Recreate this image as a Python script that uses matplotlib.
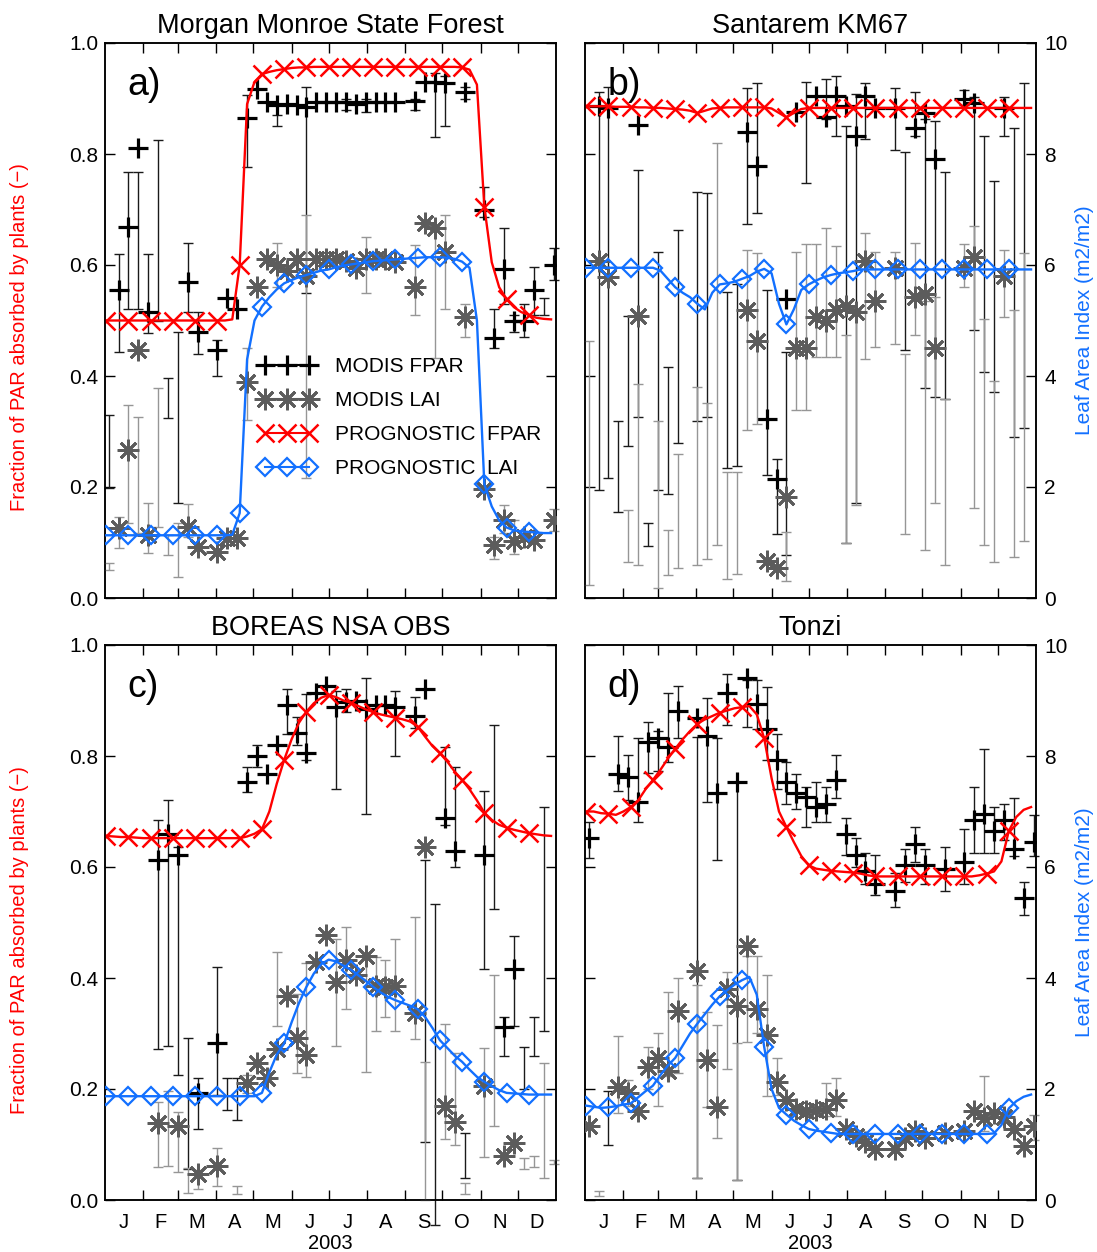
import numpy as np
import matplotlib
matplotlib.use("Agg")
import matplotlib.pyplot as plt
from matplotlib.lines import Line2D

plt.rcParams['font.family'] = ['Liberation Sans', 'DejaVu Sans']

# ---------------- calendar ----------------
months = ['J', 'F', 'M', 'A', 'M', 'J', 'J', 'A', 'S', 'O', 'N', 'D']
month_edges = [0, 31, 59, 90, 120, 151, 181, 212, 243, 273, 304, 334, 365]
year_label = '2003'

# MODIS 8-day composites: composite index k -> composite centre day of year
def modis_doy(k):
    return 3 + 8 * np.asarray(k)

# prognostic model output every 6 days, markers every 18 days
prog_doy = np.arange(1, 362, 6)

titles = ['Morgan Monroe State Forest', 'Santarem KM67', 'BOREAS NSA OBS', 'Tonzi']
letters = ['a)', 'b)', 'c)', 'd)']

# ---------------- a) Morgan Monroe State Forest ----------------
a_fpar_k = [1, 2, 3, 4, 8, 9, 11, 12, 13, 14, 15, 16, 17, 18, 19, 20, 21, 22, 23, 24, 25, 26, 27, 28, 29,
            31, 32, 33, 34, 36, 38, 39, 40, 41, 42, 43, 45]
a_fpar = [0.555, 0.668, 0.81, 0.515, 0.57, 0.48, 0.447, 0.54, 0.52, 0.865, 0.918, 0.893, 0.888, 0.89, 0.888,
          0.885, 0.893, 0.893, 0.893, 0.893, 0.89, 0.893, 0.893, 0.893, 0.893,
          0.895, 0.93, 0.93, 0.928, 0.912, 0.70, 0.468, 0.592, 0.50, 0.50, 0.555, 0.60]
a_fpar_bar_k = [0, 1, 2, 3, 4, 5, 6, 7, 8, 9, 11, 14, 17, 20, 24, 26, 31, 33, 34, 36, 38, 39, 40, 41, 42, 43, 44, 45]
a_fpar_lo = [0.198, 0.444, 0.52, 0.52, 0.477, 0.50, 0.324, 0.171, 0.515, 0.44, 0.40, 0.777, 0.85, 0.55, 0.88,
             0.875, 0.88, 0.83, 0.85, 0.90, 0.687, 0.45, 0.53, 0.48, 0.47, 0.51, 0.51, 0.573]
a_fpar_hi = [0.33, 0.62, 0.768, 0.768, 0.62, 0.825, 0.396, 0.48, 0.64, 0.515, 0.464, 0.906, 0.87, 0.92, 0.90,
             0.90, 0.90, 0.946, 0.94, 0.92, 0.74, 0.52, 0.667, 0.51, 0.53, 0.597, 0.54, 0.63]
a_lai_k = [1, 2, 3, 4, 8, 9, 11, 12, 13, 14, 15, 16, 17, 18, 19, 20, 21, 22, 23, 24, 25, 26, 27, 28, 29,
           31, 32, 33, 34, 36, 38, 39, 40, 41, 42, 43, 45]
a_lai = [1.26, 2.67, 4.47, 1.13, 1.28, 0.92, 0.83, 1.08, 1.08, 3.9, 5.6, 6.1, 6.0, 5.9, 6.1, 5.8, 6.1, 6.1, 6.1,
         6.08, 5.95, 6.1, 6.1, 6.1, 6.05, 5.6, 6.75, 6.67, 6.24, 5.07, 1.96, 0.95, 1.4, 1.03, 1.1, 1.05, 1.4]
a_lai_bar_k = [0, 1, 2, 3, 4, 5, 6, 7, 8, 14, 17, 20, 26, 31, 33, 34, 36, 39, 40, 41, 45]
a_lai_lo = [0.5, 0.9, 1.35, 1.17, 0.81, 1.28, 0.77, 0.38, 1.1, 3.2, 5.6, 2.16, 5.5, 5.1, 4.32, 5.2, 4.7, 0.7,
            1.17, 0.8, 1.2]
a_lai_hi = [0.63, 1.46, 3.48, 3.27, 1.71, 3.78, 1.13, 1.35, 1.7, 4.5, 6.4, 6.9, 6.5, 6.36, 6.69, 6.9, 5.3, 1.1,
            1.68, 1.4, 1.6]
a_prog_fpar = [0.500, 0.500, 0.500, 0.500, 0.500, 0.500, 0.500, 0.500, 0.500, 0.500,
               0.500, 0.500, 0.500, 0.500, 0.500, 0.500, 0.500, 0.502, 0.600, 0.890,
               0.930, 0.944, 0.948, 0.951, 0.953, 0.955, 0.956, 0.956, 0.957, 0.957,
               0.957, 0.957, 0.957, 0.957, 0.957, 0.957, 0.957, 0.957, 0.957, 0.957,
               0.957, 0.957, 0.957, 0.957, 0.957, 0.957, 0.957, 0.957, 0.956, 0.952,
               0.925, 0.705, 0.605, 0.560, 0.538, 0.524, 0.515, 0.510, 0.505, 0.503,
               0.502]
a_prog_lai = [1.13, 1.13, 1.13, 1.13, 1.13, 1.13, 1.13, 1.13, 1.13, 1.13,
              1.13, 1.13, 1.13, 1.13, 1.13, 1.13, 1.13, 1.14, 1.53, 4.30,
              5.00, 5.25, 5.42, 5.56, 5.67, 5.73, 5.78, 5.82, 5.86, 5.90,
              5.92, 5.96, 5.99, 6.01, 6.03, 6.05, 6.07, 6.08, 6.09, 6.10,
              6.11, 6.12, 6.13, 6.14, 6.14, 6.14, 6.13, 6.11, 6.06, 5.95,
              5.00, 2.05, 1.65, 1.40, 1.27, 1.22, 1.20, 1.19, 1.18, 1.17,
              1.17]

# ---------------- b) Santarem KM67 ----------------
b_fpar_k = [1, 2, 5, 16, 17, 18, 19, 20, 21, 23, 24, 25, 26, 27, 28, 29, 31, 33, 34, 35, 38, 39, 42]
b_fpar = [0.886, 0.883, 0.853, 0.840, 0.778, 0.323, 0.215, 0.539, 0.876, 0.905, 0.866, 0.905, 0.886, 0.833,
          0.905, 0.883, 0.883, 0.847, 0.873, 0.791, 0.90, 0.892, 0.883]
b_fpar_bar_k = [1, 2, 3, 4, 5, 6, 7, 8, 9, 11, 12, 14, 15, 16, 17, 18, 19, 20, 22, 24, 25, 26, 27, 28, 31, 32,
                33, 34, 35, 36, 38, 39, 40, 41, 42, 43, 44]
b_fpar_lo = [0.195, 0.217, 0.155, 0.273, 0.326, 0.093, 0.195, 0.188, 0.280, 0.319, 0.326, 0.234, 0.237, 0.673,
             0.693, 0.221, 0.116, 0.077, 0.748, 0.863, 0.833, 0.10, 0.172, 0.827, 0.807, 0.447, 0.833, 0.378,
             0.362, 0.359, 0.889, 0.483, 0.408, 0.372, 0.833, 0.29, 0.306]
b_fpar_hi = [0.912, 0.92, 0.319, 0.509, 0.771, 0.136, 0.624, 0.417, 0.663, 0.732, 0.729, 0.552, 0.565, 0.919,
             0.928, 0.555, 0.25, 0.444, 0.93, 0.935, 0.94, 0.85, 0.909, 0.928, 0.919, 0.804, 0.912, 0.863,
             0.859, 0.768, 0.915, 0.902, 0.833, 0.751, 0.902, 0.847, 0.928]
b_lai_k = [1, 2, 5, 16, 17, 18, 19, 20, 21, 22, 23, 24, 25, 26, 27, 28, 29, 31, 33, 34, 35, 38, 39, 42]
b_lai = [6.07, 5.78, 5.09, 5.19, 4.63, 0.67, 0.54, 1.82, 4.5, 4.5, 5.06, 4.99, 5.19, 5.26, 5.15, 6.07, 5.35,
         5.95, 5.42, 5.48, 4.5, 5.95, 6.14, 5.81]
b_lai_bar_k = [0, 4, 5, 7, 8, 9, 11, 12, 13, 14, 15, 16, 17, 20, 21, 22, 23, 24, 25, 26, 27, 28, 29, 31, 32, 33,
               34, 35, 36, 38, 39, 40, 41, 42, 43, 44]
b_lai_lo = [0.24, 0.64, 0.60, 0.18, 0.41, 0.54, 0.60, 0.71, 0.96, 0.34, 0.44, 3.03, 3.13, 0.31, 3.39, 3.39, 4.34,
            4.34, 4.34, 1.0, 1.68, 4.31, 4.53, 4.57, 1.16, 4.73, 0.86, 1.72, 0.60, 5.61, 1.62, 0.96, 0.64, 5.06,
            0.74, 1.03]
b_lai_hi = [4.63, 1.59, 3.85, 3.19, 1.23, 2.6, 3.81, 3.52, 8.2, 2.27, 2.27, 6.27, 6.21, 1.19, 6.24, 6.37, 6.37,
            6.67, 6.34, 4.73, 5.19, 6.57, 6.24, 6.24, 4.4, 6.4, 5.35, 5.42, 3.59, 6.37, 6.7, 5.03, 3.91, 6.27,
            5.19, 6.21]
b_prog_fpar = [0.886, 0.886, 0.886, 0.886, 0.885, 0.885, 0.885, 0.884, 0.884, 0.883,
               0.883, 0.882, 0.881, 0.880, 0.878, 0.874, 0.878, 0.882, 0.883, 0.884,
               0.884, 0.884, 0.884, 0.884, 0.884, 0.882, 0.874, 0.866, 0.874, 0.881,
               0.883, 0.883, 0.883, 0.883, 0.883, 0.883, 0.883, 0.883, 0.883, 0.883,
               0.883, 0.883, 0.883, 0.883, 0.883, 0.883, 0.883, 0.883, 0.883, 0.883,
               0.883, 0.883, 0.883, 0.883, 0.883, 0.883, 0.883, 0.883, 0.883, 0.883,
               0.883]
b_prog_lai = [5.95, 5.95, 5.95, 5.95, 5.95, 5.95, 5.95, 5.95, 5.95, 5.95,
              5.90, 5.75, 5.60, 5.50, 5.42, 5.30, 5.20, 5.50, 5.65, 5.67,
              5.70, 5.75, 5.80, 5.88, 5.93, 5.85, 5.30, 4.93, 5.20, 5.55,
              5.65, 5.72, 5.78, 5.82, 5.85, 5.87, 5.89, 5.92, 5.92, 5.92,
              5.92, 5.92, 5.92, 5.92, 5.92, 5.92, 5.92, 5.92, 5.92, 5.92,
              5.92, 5.92, 5.92, 5.92, 5.92, 5.92, 5.92, 5.92, 5.92, 5.92,
              5.92]

# ---------------- c) BOREAS NSA OBS ----------------
c_fpar_k = [5, 6, 7, 9, 11, 14, 15, 16, 17, 18, 19, 20, 21, 22, 23, 24, 25, 26, 27, 28, 29, 31, 32, 34, 35, 38,
            40, 41]
c_fpar = [0.613, 0.659, 0.622, 0.193, 0.282, 0.753, 0.80, 0.767, 0.819, 0.891, 0.842, 0.806, 0.914, 0.926,
          0.888, 0.897, 0.90, 0.885, 0.891, 0.891, 0.888, 0.872, 0.921, 0.688, 0.629, 0.622, 0.312, 0.416]
c_fpar_bar_k = [5, 6, 7, 8, 9, 11, 12, 13, 14, 15, 18, 19, 20, 23, 24, 26, 29, 31, 32, 33, 34, 35, 36, 38, 39,
                40, 41, 42, 43, 44]
c_fpar_lo = [0.272, 0.278, 0.226, 0.056, 0.128, 0.19, 0.163, 0.145, 0.735, 0.78, 0.84, 0.82, 0.793, 0.74, 0.88,
             0.695, 0.80, 0.85, 0.104, -0.045, 0.675, 0.60, 0.04, 0.416, 0.524, 0.26, 0.314, 0.20, 0.26, 0.305]
c_fpar_hi = [0.685, 0.72, 0.636, 0.292, 0.22, 0.42, 0.22, 0.22, 0.78, 0.82, 0.92, 0.87, 0.911, 0.917, 0.92,
             0.94, 0.917, 0.907, 0.613, 0.534, 0.816, 0.78, 0.12, 0.737, 0.855, 0.33, 0.476, 0.275, 0.33, 0.708]
c_lai_k = [5, 7, 9, 11, 14, 15, 16, 17, 18, 19, 20, 21, 22, 23, 24, 25, 26, 27, 28, 29, 31, 32, 34, 35, 38, 40,
           41]
c_lai = [1.38, 1.34, 0.46, 0.62, 2.10, 2.46, 2.2, 2.72, 3.67, 2.92, 2.62, 4.29, 4.78, 3.93, 4.32, 4.06, 4.39,
         3.86, 3.83, 3.86, 3.37, 6.36, 1.70, 1.41, 2.06, 0.79, 1.02]
c_lai_bar_k = [5, 6, 7, 8, 9, 11, 13, 14, 17, 19, 20, 23, 24, 26, 27, 28, 29, 31, 32, 34, 35, 36, 38, 39, 42, 43,
               44, 45]
c_lai_lo = [0.59, 0.62, 0.51, 0.12, 0.19, 0.25, 0.1, 1.92, 3.14, 2.28, 2.21, 2.77, 3.45, 2.3, 3.05, 3.3, 3.05,
            2.9, 0.0, 1.1, 0.99, 0.1, 0.77, 1.34, 0.55, 0.6, 0.4, 0.65]
c_lai_hi = [1.77, 1.96, 1.58, 0.57, 0.54, 0.94, 0.25, 2.25, 4.46, 3.71, 4.27, 4.71, 4.92, 4.37, 4.38, 4.32, 4.7,
            5.1, 2.49, 3.18, 2.64, 0.3, 2.74, 4.06, 0.75, 0.8, 2.46, 0.72]
c_prog_fpar = [0.656, 0.655, 0.654, 0.654, 0.653, 0.652, 0.652, 0.652, 0.652, 0.652,
               0.652, 0.652, 0.652, 0.652, 0.652, 0.652, 0.652, 0.652, 0.652, 0.655,
               0.660, 0.668, 0.700, 0.750, 0.793, 0.830, 0.860, 0.880, 0.895, 0.905,
               0.910, 0.906, 0.900, 0.896, 0.890, 0.884, 0.879, 0.875, 0.872, 0.869,
               0.866, 0.862, 0.853, 0.835, 0.818, 0.805, 0.790, 0.772, 0.757, 0.740,
               0.720, 0.698, 0.685, 0.676, 0.671, 0.667, 0.664, 0.661, 0.659, 0.657,
               0.656]
c_prog_lai = [1.87, 1.87, 1.87, 1.87, 1.87, 1.87, 1.87, 1.87, 1.87, 1.87,
              1.87, 1.87, 1.87, 1.87, 1.87, 1.87, 1.87, 1.87, 1.87, 1.87,
              1.87, 1.93, 2.30, 2.62, 2.82, 3.20, 3.55, 3.84, 4.08, 4.25,
              4.33, 4.30, 4.22, 4.15, 4.05, 3.95, 3.84, 3.74, 3.66, 3.60,
              3.55, 3.50, 3.44, 3.30, 3.10, 2.88, 2.74, 2.60, 2.49, 2.35,
              2.22, 2.13, 2.05, 1.98, 1.93, 1.92, 1.91, 1.90, 1.90, 1.90,
              1.90]

# ---------------- d) Tonzi ----------------
d_fpar_k = [0, 3, 4, 5, 6, 7, 8, 9, 11, 12, 13, 14, 15, 16, 17, 18, 19, 20, 21, 22, 23, 24, 25, 26, 27, 28, 29,
            31, 32, 33, 34, 36, 38, 39, 40, 41, 42, 43, 44, 45]
d_fpar = [0.652, 0.767, 0.763, 0.717, 0.826, 0.832, 0.816, 0.881, 0.868, 0.836, 0.734, 0.914, 0.753, 0.94,
          0.894, 0.849, 0.793, 0.753, 0.734, 0.727, 0.708, 0.714, 0.757, 0.659, 0.622, 0.593, 0.570, 0.557,
          0.603, 0.642, 0.603, 0.596, 0.609, 0.685, 0.695, 0.665, 0.685, 0.632, 0.544, 0.645]
d_fpar_bar_k = [0, 2, 3, 4, 5, 6, 7, 8, 9, 11, 12, 13, 14, 15, 16, 17, 18, 19, 20, 21, 22, 23, 24, 25, 26, 27,
                28, 29, 31, 32, 33, 34, 36, 38, 39, 40, 41, 42, 43, 44, 45]
d_fpar_lo = [0.616, 0.100, 0.737, 0.721, 0.681, 0.770, 0.773, 0.790, 0.832, 0.040, 0.718, 0.613, 0.855, 0.036,
             0.852, 0.849, 0.793, 0.740, 0.714, 0.704, 0.672, 0.681, 0.681, 0.724, 0.622, 0.600, 0.570, 0.550,
             0.528, 0.573, 0.609, 0.570, 0.557, 0.570, 0.626, 0.626, 0.626, 0.648, 0.619, 0.514, 0.619]
d_fpar_hi = [0.681, 0.196, 0.836, 0.802, 0.832, 0.862, 0.845, 0.914, 0.927, 0.835, 0.904, 0.832, 0.947, 0.754,
             0.937, 0.937, 0.924, 0.839, 0.790, 0.767, 0.744, 0.754, 0.744, 0.802, 0.688, 0.652, 0.626, 0.622,
             0.590, 0.632, 0.672, 0.632, 0.636, 0.668, 0.744, 0.812, 0.708, 0.714, 0.724, 0.573, 0.694]
d_lai_k = [0, 3, 4, 5, 6, 7, 8, 9, 11, 12, 13, 14, 15, 16, 17, 18, 19, 20, 21, 22, 23, 24, 25, 26, 27, 28, 29,
           31, 32, 33, 34, 36, 38, 39, 40, 41, 42, 43, 44, 45]
d_lai = [1.34, 2.03, 1.93, 1.60, 2.40, 2.56, 2.32, 3.40, 4.12, 2.52, 1.67, 3.80, 3.50, 4.58, 3.44, 2.98, 2.12,
         1.80, 1.64, 1.60, 1.62, 1.64, 1.80, 1.28, 1.15, 1.05, 0.92, 0.92, 1.12, 1.24, 1.12, 1.21, 1.24, 1.60,
         1.48, 1.57, 1.50, 1.28, 0.98, 1.34]
d_lai_bar_k = [1, 3, 4, 6, 7, 8, 9, 11, 12, 13, 14, 15, 16, 17, 18, 19, 24, 25, 40, 45]
d_lai_lo = [0.08, 1.57, 1.70, 2.00, 1.70, 2.23, 2.29, 0.39, 1.67, 1.11, 2.36, 0.36, 2.85, 3.01, 1.87, 1.90,
            1.51, 1.51, 1.25, 1.08]
d_lai_hi = [0.17, 2.95, 2.16, 2.75, 3.01, 3.74, 4.00, 3.87, 3.38, 3.15, 4.10, 2.82, 4.39, 4.39, 4.06, 2.56,
            2.10, 2.20, 2.23, 1.54]
d_prog_fpar = [0.700, 0.700, 0.697, 0.696, 0.694, 0.700, 0.708, 0.720, 0.740, 0.757,
               0.775, 0.795, 0.813, 0.830, 0.845, 0.858, 0.866, 0.872, 0.878, 0.882,
               0.886, 0.888, 0.890, 0.875, 0.832, 0.760, 0.700, 0.672, 0.645, 0.620,
               0.603, 0.597, 0.595, 0.593, 0.592, 0.591, 0.590, 0.588, 0.585, 0.583,
               0.583, 0.583, 0.583, 0.583, 0.583, 0.583, 0.583, 0.583, 0.583, 0.583,
               0.583, 0.583, 0.583, 0.585, 0.588, 0.592, 0.610, 0.665, 0.690, 0.703,
               0.708]
d_prog_lai = [1.70, 1.68, 1.66, 1.67, 1.69, 1.72, 1.74, 1.85, 1.96, 2.06,
              2.25, 2.42, 2.56, 2.78, 3.00, 3.18, 3.35, 3.52, 3.67, 3.78,
              3.88, 3.96, 4.02, 3.70, 2.76, 2.00, 1.66, 1.54, 1.43, 1.35,
              1.28, 1.25, 1.23, 1.21, 1.19, 1.19, 1.19, 1.19, 1.19, 1.19,
              1.19, 1.19, 1.19, 1.19, 1.19, 1.19, 1.19, 1.19, 1.19, 1.19,
              1.19, 1.19, 1.19, 1.19, 1.19, 1.20, 1.35, 1.65, 1.78, 1.86,
              1.90]

legend_labels = ['MODIS FPAR', 'MODIS LAI', 'PROGNOSTIC  FPAR', 'PROGNOSTIC  LAI']
fpar_label = 'Fraction of PAR absorbed by plants (\u2212)'
lai_label = 'Leaf Area Index (m2/m2)'

# ---------------- styles ----------------
RED = '#ff0000'
BLUE = '#1270ff'
GRAY_MK = '#5c5c5c'
GRAY_BAR = '#969696'
BLACK_BAR = '#1a1a1a'
ASTER = (8, 2, 0)
prog_marks = list(range(0, 60, 3))

PLUS_KW = dict(marker='+', color='k', ms=14, mew=2.3)
ASTER_KW = dict(marker=ASTER, color=GRAY_MK, ms=15.5, mew=2.0)
X_KW = dict(marker='x', color=RED, ms=13.5, mew=1.8)
D_KW = dict(marker='D', color=BLUE, ms=9, mfc='none', mec=BLUE, mew=1.6)

panels = [
    dict(fk=a_fpar_k, fv=a_fpar, fbk=a_fpar_bar_k, flo=a_fpar_lo, fhi=a_fpar_hi,
         lk=a_lai_k, lv=a_lai, lbk=a_lai_bar_k, llo=a_lai_lo, lhi=a_lai_hi,
         pf=a_prog_fpar, pl=a_prog_lai),
    dict(fk=b_fpar_k, fv=b_fpar, fbk=b_fpar_bar_k, flo=b_fpar_lo, fhi=b_fpar_hi,
         lk=b_lai_k, lv=b_lai, lbk=b_lai_bar_k, llo=b_lai_lo, lhi=b_lai_hi,
         pf=b_prog_fpar, pl=b_prog_lai),
    dict(fk=c_fpar_k, fv=c_fpar, fbk=c_fpar_bar_k, flo=c_fpar_lo, fhi=c_fpar_hi,
         lk=c_lai_k, lv=c_lai, lbk=c_lai_bar_k, llo=c_lai_lo, lhi=c_lai_hi,
         pf=c_prog_fpar, pl=c_prog_lai),
    dict(fk=d_fpar_k, fv=d_fpar, fbk=d_fpar_bar_k, flo=d_fpar_lo, fhi=d_fpar_hi,
         lk=d_lai_k, lv=d_lai, lbk=d_lai_bar_k, llo=d_lai_lo, lhi=d_lai_hi,
         pf=d_prog_fpar, pl=d_prog_lai),
]

W, H = 1097, 1252
fig = plt.figure(figsize=(W / 100, H / 100), dpi=100)

boxes = [(105, 43), (585, 43), (105, 645), (585, 645)]
pw, ph = 451, 555

month_mid = [(month_edges[i] + month_edges[i + 1]) / 2 for i in range(12)]


def errbars(ax, k, lo, hi, color):
    lo = np.asarray(lo, float)
    hi = np.asarray(hi, float)
    eb = ax.errorbar(modis_doy(k), (lo + hi) / 2, yerr=(hi - lo) / 2, fmt='none',
                     ecolor=color, elinewidth=1.0, capsize=3.8, capthick=1.0, zorder=2)
    for art in list(eb.lines[1]) + list(eb.lines[2]):
        art.set_clip_on(False)


for i, p in enumerate(panels):
    x0, y0 = boxes[i]
    ax = fig.add_axes([x0 / W, 1 - (y0 + ph) / H, pw / W, ph / H])
    ax2 = ax.twinx()
    ax.set_xlim(0, 365)
    ax.set_ylim(0, 1)
    ax2.set_ylim(0, 10)

    # MODIS FPAR
    errbars(ax, p['fbk'], p['flo'], p['fhi'], BLACK_BAR)
    ax.plot(modis_doy(p['fk']), p['fv'], ls='none', zorder=3, **PLUS_KW)
    # prognostic FPAR
    ax.plot(prog_doy, p['pf'], lw=1.7, markevery=prog_marks, zorder=4, **X_KW)
    # MODIS LAI
    errbars(ax2, p['lbk'], p['llo'], p['lhi'], GRAY_BAR)
    ax2.plot(modis_doy(p['lk']), p['lv'], ls='none', zorder=3, **ASTER_KW)
    # prognostic LAI
    ax2.plot(prog_doy, p['pl'], lw=1.7, markevery=prog_marks, zorder=4, **D_KW)

    left_col = i in (0, 2)
    bottom_row = i in (2, 3)

    ax.set_xticks(month_edges[1:-1])
    ax.set_xticklabels([])
    ax.set_xticks(month_mid, minor=True)
    ax.set_xticklabels(months if bottom_row else [''] * 12, minor=True)
    ax.tick_params(axis='x', which='major', direction='in', length=7, width=1, top=True, bottom=True)
    ax.tick_params(axis='x', which='minor', length=0, pad=9, labelsize=14.5, top=False)

    ax.set_yticks([0, 0.2, 0.4, 0.6, 0.8, 1.0])
    ax.set_yticklabels(['0.0', '0.2', '0.4', '0.6', '0.8', '1.0'])
    ax.tick_params(axis='y', direction='in', length=7, width=1, labelsize=15, pad=5,
                   labelleft=left_col, right=False)
    ax2.set_yticks([0, 2, 4, 6, 8, 10])
    ax2.tick_params(axis='y', direction='in', length=7, width=1, labelsize=15, pad=6,
                    labelright=not left_col)

    for sp in list(ax.spines.values()) + list(ax2.spines.values()):
        sp.set_linewidth(1.1)

    ax.set_title(titles[i], fontsize=19.5, pad=7)
    ax.text(0.05, 0.925, letters[i], transform=ax.transAxes, fontsize=27, ha='left', va='center')

    if bottom_row:
        ax.text(0.5, -0.078, year_label, transform=ax.transAxes, ha='center', va='center', fontsize=14.5)

    if i == 0:
        handles = [
            Line2D([], [], lw=1.5, **PLUS_KW),
            Line2D([], [], lw=1.5, **ASTER_KW),
            Line2D([], [], lw=1.5, **X_KW),
            Line2D([], [], lw=1.5, **D_KW),
        ]
        ax2.legend(handles, legend_labels, loc='upper left', bbox_to_anchor=(0.342, 0.434),
                   numpoints=3, handlelength=2.7, handletextpad=0.95, labelspacing=0.72,
                   frameon=False, borderpad=0, borderaxespad=0, fontsize=15)

# axis titles
fig.text(20 / W, 1 - 337 / H, fpar_label, rotation=90, color=RED, fontsize=14.5, ha='center', va='center')
fig.text(20 / W, 1 - 940 / H, fpar_label, rotation=90, color=RED, fontsize=14.5, ha='center', va='center')
fig.text(1085 / W, 1 - 320 / H, lai_label, rotation=90, color=BLUE, fontsize=15, ha='center', va='center')
fig.text(1085 / W, 1 - 922 / H, lai_label, rotation=90, color=BLUE, fontsize=15, ha='center', va='center')

fig.savefig('out.png', dpi=100)
